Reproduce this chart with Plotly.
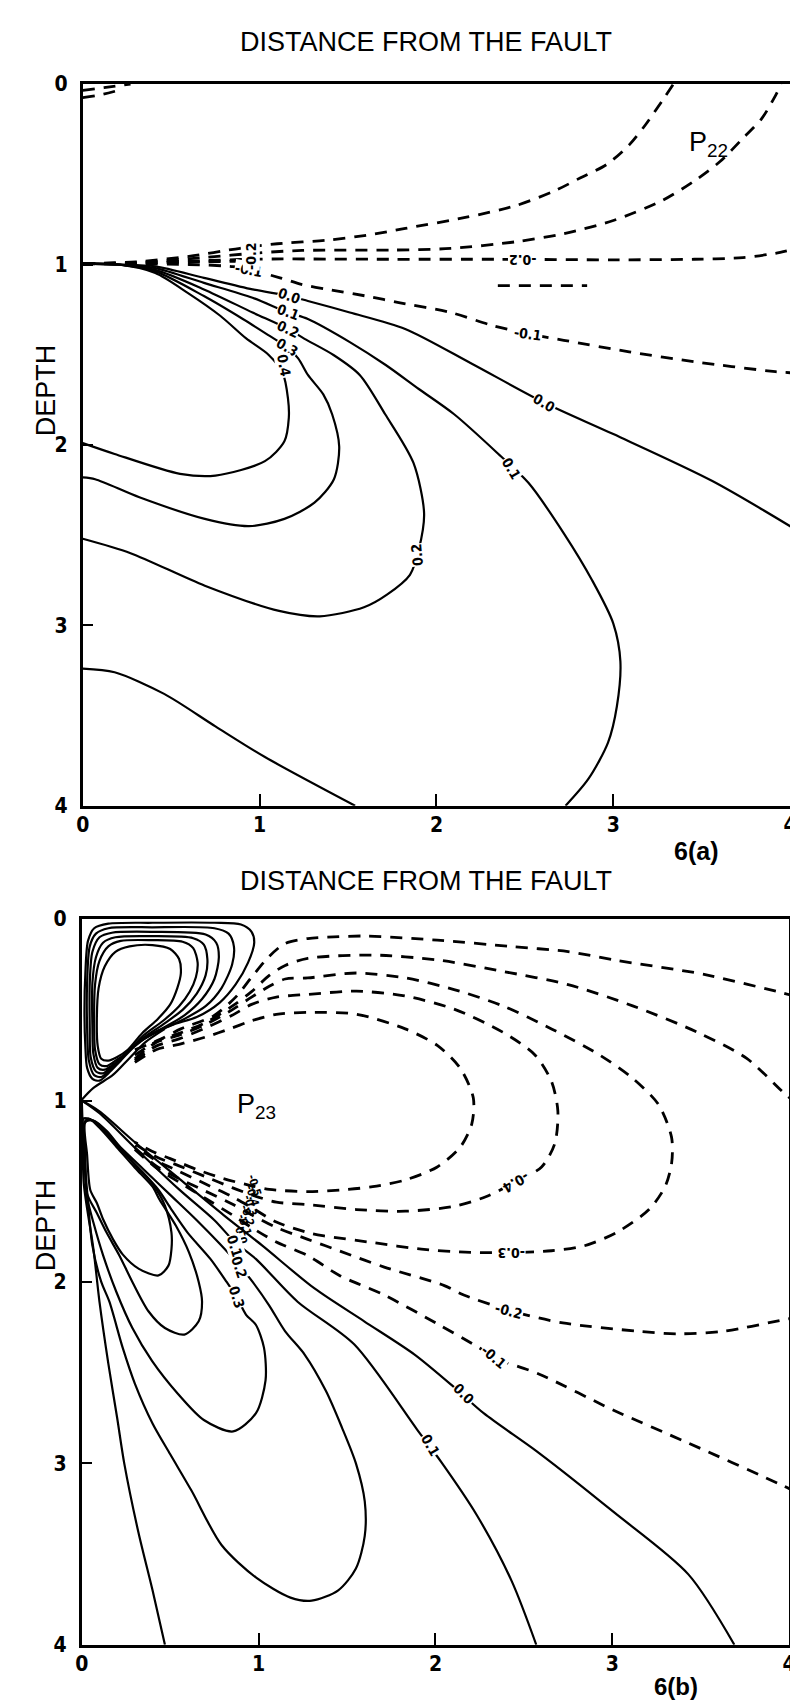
import plotly.graph_objects as go

# ---------------- axes ----------------
tick_vals = [0, 1, 2, 3, 4]
tick_text = ["0", "1", "2", "3", "4"]

# ---------------- P22 (panel a) solid contours ----------------
a_s00_x = [0.0, 0.2, 0.41, 0.685, 0.96, 1.17, 1.273, 1.51, 1.823, 2.2, 2.61, 3.0, 3.56, 4.05]
a_s00_y = [0.995, 1.0, 1.01, 1.074, 1.138, 1.175, 1.202, 1.266, 1.357, 1.55, 1.766, 1.94, 2.20, 2.48]
a_s01_x = [0.0, 0.2, 0.41, 0.685, 0.96, 1.16, 1.273, 1.51, 1.713, 1.90, 2.10, 2.35, 2.52, 2.72, 2.88, 3.0, 3.04, 3.02, 2.97, 2.86, 2.73]
a_s01_y = [0.995, 1.0, 1.02, 1.102, 1.184, 1.266, 1.302, 1.43, 1.557, 1.69, 1.83, 2.05, 2.21, 2.49, 2.75, 2.99, 3.2, 3.45, 3.65, 3.85, 4.0]
a_s02_x = [0.0, 0.2, 0.41, 0.685, 0.96, 1.16, 1.254, 1.42, 1.566, 1.71, 1.87, 1.93, 1.90, 1.85, 1.72, 1.59, 1.34, 1.11, 0.69, 0.27, 0.0]
a_s02_y = [0.995, 1.0, 1.03, 1.138, 1.266, 1.357, 1.412, 1.503, 1.612, 1.83, 2.10, 2.38, 2.58, 2.72, 2.83, 2.90, 2.95, 2.92, 2.78, 2.60, 2.52]
a_s03_x = [0.0, 0.2, 0.41, 0.685, 0.905, 1.052, 1.153, 1.218, 1.273, 1.36, 1.41, 1.45, 1.42, 1.31, 1.14, 0.94, 0.69, 0.32, 0.07, 0.0]
a_s03_y = [0.995, 1.0, 1.038, 1.175, 1.302, 1.393, 1.457, 1.52, 1.612, 1.72, 1.83, 2.01, 2.19, 2.32, 2.41, 2.45, 2.41, 2.29, 2.19, 2.18]
a_s04_x = [0.0, 0.2, 0.41, 0.593, 0.777, 0.924, 1.05, 1.13, 1.16, 1.165, 1.14, 1.03, 0.75, 0.55, 0.18, 0.0]
a_s04_y = [0.995, 1.0, 1.047, 1.157, 1.284, 1.41, 1.50, 1.60, 1.74, 1.85, 1.98, 2.09, 2.17, 2.16, 2.05, 1.99]
a_s05_x = [0.0, 0.18, 0.46, 0.75, 1.03, 1.54]
a_s05_y = [3.24, 3.26, 3.38, 3.56, 3.73, 4.0]

# ---------------- P22 (panel a) dashed contours ----------------
a_d1_x = [0.0, 0.3, 0.6, 0.89, 1.1, 1.383, 1.603, 1.824, 2.17, 2.448, 2.668, 2.815, 2.962, 3.09, 3.18, 3.29, 3.34]
a_d1_y = [0.995, 0.985, 0.955, 0.91, 0.885, 0.865, 0.838, 0.80, 0.738, 0.674, 0.592, 0.519, 0.446, 0.337, 0.228, 0.073, 0.0]
a_d2_x = [0.0, 0.3, 0.7, 1.0, 1.24, 1.75, 2.08, 2.448, 2.72, 3.0, 3.274, 3.458, 3.605, 3.733, 3.84, 3.917, 3.95]
a_d2_y = [0.995, 0.99, 0.96, 0.935, 0.922, 0.92, 0.911, 0.874, 0.829, 0.756, 0.647, 0.537, 0.428, 0.30, 0.19, 0.064, 0.0]
a_d3_x = [0.0, 0.3, 0.7, 1.0, 1.75, 2.356, 3.0, 3.458, 3.733, 3.917, 4.0]
a_d3_y = [0.995, 0.993, 0.978, 0.97, 0.971, 0.971, 0.974, 0.971, 0.962, 0.938, 0.92]
a_d4_x = [0.0, 0.3, 0.6, 0.85, 0.942, 1.12, 1.236, 1.383, 1.603, 1.787, 2.08, 2.32, 2.52, 2.72, 3.09, 3.458, 3.917, 4.0]
a_d4_y = [0.995, 0.997, 1.0, 1.012, 1.029, 1.075, 1.11, 1.138, 1.175, 1.211, 1.266, 1.339, 1.384, 1.42, 1.484, 1.539, 1.594, 1.60]
a_d5_x = [0.0, 0.4, 0.7, 0.92]
a_d5_y = [0.997, 0.99, 0.985, 0.982]
a_d6_x = [2.347, 2.852]
a_d6_y = [1.117, 1.117]
a_d7_x = [0.0, 0.12, 0.27]
a_d7_y = [0.035, 0.02, 0.0]
a_d8_x = [0.0, 0.1, 0.2]
a_d8_y = [0.075, 0.06, 0.035]

# ---------------- P22 contour labels ----------------
a_lab_text = ["0.0", "0.1", "0.2", "0.3", "-0.1", "0.4", "0.0", "0.1", "0.2", "-0.1", "-0.2", "-0.2"]
a_lab_x = [1.17, 1.16, 1.16, 1.153, 0.942, 1.14, 2.61, 2.42, 1.89, 2.52, 2.485, 0.955]
a_lab_y = [1.175, 1.266, 1.357, 1.457, 1.029, 1.56, 1.766, 2.13, 2.61, 1.384, 0.971, 0.955]
a_lab_ang = [20, 20, 25, 30, 10, 80, 30, 60, -95, 8, 180, -90]

# ---------------- P23 (panel b) solid contours ----------------
b_up1_x = [0.22, 0.30, 0.40, 0.52, 0.65, 0.78, 0.87, 0.94, 0.975, 0.96, 0.90, 0.75, 0.40, 0.15, 0.07, 0.035, 0.02, 0.015, 0.02, 0.03, 0.06, 0.10, 0.15, 0.22]
b_up1_y = [0.78, 0.70, 0.63, 0.58, 0.54, 0.46, 0.36, 0.24, 0.13, 0.07, 0.03, 0.02, 0.02, 0.025, 0.05, 0.12, 0.30, 0.50, 0.70, 0.82, 0.88, 0.89, 0.85, 0.78]
b_up2_x = [0.22, 0.32, 0.45, 0.58, 0.70, 0.79, 0.85, 0.86, 0.83, 0.75, 0.40, 0.15, 0.08, 0.045, 0.03, 0.03, 0.04, 0.07, 0.11, 0.16, 0.22]
b_up2_y = [0.77, 0.68, 0.61, 0.55, 0.48, 0.38, 0.25, 0.15, 0.08, 0.05, 0.045, 0.05, 0.08, 0.15, 0.35, 0.60, 0.78, 0.86, 0.87, 0.83, 0.77]
b_up3_x = [0.23, 0.33, 0.46, 0.58, 0.68, 0.75, 0.775, 0.76, 0.70, 0.40, 0.17, 0.10, 0.06, 0.045, 0.045, 0.05, 0.08, 0.12, 0.17, 0.23]
b_up3_y = [0.76, 0.67, 0.60, 0.53, 0.44, 0.33, 0.21, 0.13, 0.085, 0.07, 0.075, 0.10, 0.18, 0.35, 0.60, 0.76, 0.84, 0.85, 0.81, 0.76]
b_up4_x = [0.24, 0.34, 0.46, 0.57, 0.65, 0.70, 0.71, 0.69, 0.63, 0.40, 0.19, 0.12, 0.08, 0.06, 0.06, 0.065, 0.09, 0.13, 0.18, 0.24]
b_up4_y = [0.75, 0.66, 0.58, 0.50, 0.41, 0.31, 0.22, 0.14, 0.105, 0.094, 0.10, 0.13, 0.21, 0.35, 0.60, 0.74, 0.82, 0.83, 0.80, 0.75]
b_up5_x = [0.25, 0.35, 0.46, 0.55, 0.61, 0.645, 0.655, 0.63, 0.57, 0.40, 0.22, 0.15, 0.10, 0.075, 0.07, 0.075, 0.10, 0.14, 0.19, 0.25]
b_up5_y = [0.74, 0.64, 0.56, 0.48, 0.40, 0.32, 0.24, 0.16, 0.125, 0.116, 0.12, 0.15, 0.23, 0.36, 0.60, 0.72, 0.80, 0.81, 0.78, 0.74]
b_up6_x = [0.26, 0.34, 0.43, 0.50, 0.54, 0.56, 0.55, 0.50, 0.40, 0.27, 0.19, 0.13, 0.095, 0.085, 0.09, 0.11, 0.15, 0.20, 0.26]
b_up6_y = [0.72, 0.63, 0.55, 0.47, 0.38, 0.30, 0.22, 0.165, 0.143, 0.15, 0.18, 0.26, 0.38, 0.55, 0.70, 0.77, 0.78, 0.76, 0.72]
b_o1_x = [0.0, 0.066, 0.176, 0.268, 0.36, 0.47]
b_o1_y = [0.995, 0.93, 0.859, 0.768, 0.678, 0.605]

b_lo1_x = [0.02, 0.03, 0.048, 0.085, 0.121, 0.176, 0.231, 0.323, 0.434, 0.49, 0.507, 0.507, 0.47, 0.40, 0.323, 0.231, 0.14, 0.066, 0.02]
b_lo1_y = [1.12, 1.30, 1.493, 1.565, 1.656, 1.764, 1.848, 1.928, 1.964, 1.91, 1.819, 1.728, 1.58, 1.46, 1.38, 1.275, 1.167, 1.11, 1.12]
b_lo2_x = [0.015, 0.02, 0.029, 0.085, 0.14, 0.213, 0.286, 0.378, 0.47, 0.58, 0.661, 0.68, 0.661, 0.606, 0.533, 0.44, 0.40, 0.30, 0.20, 0.10, 0.04, 0.015]
b_lo2_y = [1.12, 1.30, 1.511, 1.62, 1.728, 1.855, 2.0, 2.163, 2.254, 2.29, 2.217, 2.109, 2.0, 1.837, 1.692, 1.547, 1.475, 1.37, 1.26, 1.15, 1.10, 1.12]
b_lo3_x = [0.01, 0.015, 0.029, 0.066, 0.121, 0.195, 0.286, 0.397, 0.543, 0.69, 0.856, 0.984, 1.039, 1.03, 0.984, 0.929, 0.874, 0.819, 0.727, 0.598, 0.507, 0.434, 0.33, 0.20, 0.08, 0.01]
b_lo3_y = [1.10, 1.30, 1.529, 1.674, 1.855, 2.054, 2.254, 2.435, 2.616, 2.761, 2.824, 2.725, 2.543, 2.362, 2.236, 2.181, 2.081, 2.0, 1.873, 1.728, 1.601, 1.493, 1.38, 1.25, 1.12, 1.10]
b_lo4_x = [0.008, 0.015, 0.03, 0.06, 0.11, 0.156, 0.231, 0.30, 0.40, 0.50, 0.62, 0.79, 0.986, 1.18, 1.30, 1.45, 1.55, 1.60, 1.60, 1.55, 1.47, 1.38, 1.26, 1.15, 1.06, 0.966, 0.892, 0.78, 0.65, 0.50, 0.35, 0.20, 0.08, 0.008]
b_lo4_y = [1.10, 1.30, 1.50, 1.80, 2.0, 2.109, 2.362, 2.56, 2.78, 2.95, 3.15, 3.45, 3.63, 3.74, 3.757, 3.70, 3.58, 3.40, 3.21, 3.0, 2.80, 2.60, 2.40, 2.272, 2.13, 2.0, 1.91, 1.79, 1.66, 1.52, 1.38, 1.24, 1.12, 1.10]
b_la_x = [0.0, 0.005, 0.011, 0.066, 0.10, 0.15, 0.20, 0.24, 0.32, 0.40, 0.47]
b_la_y = [1.0, 1.15, 1.457, 1.82, 2.11, 2.45, 2.75, 3.0, 3.38, 3.70, 4.0]
b_l01_x = [0.0, 0.1, 0.3, 0.55, 0.75, 0.865, 0.984, 1.22, 1.54, 1.897, 2.035, 2.234, 2.431, 2.57]
b_l01_y = [1.0, 1.07, 1.26, 1.49, 1.66, 1.78, 1.873, 2.109, 2.344, 2.815, 2.996, 3.286, 3.649, 4.0]
b_l00_x = [0.0, 0.1, 0.3, 0.55, 0.80, 1.021, 1.316, 1.597, 1.88, 2.105, 2.274, 2.584, 3.007, 3.43, 3.69]
b_l00_y = [1.0, 1.06, 1.23, 1.43, 1.63, 1.80, 2.036, 2.217, 2.399, 2.58, 2.725, 2.942, 3.268, 3.612, 4.0]

# ---------------- P23 (panel b) dashed contours ----------------
b_da_x = [0.30, 0.45, 0.56, 0.745, 0.87, 0.957, 1.058, 1.15, 1.278, 1.425, 1.60, 2.01, 2.44, 2.75, 3.01, 3.48, 3.57, 3.96, 4.05]
b_da_y = [0.72, 0.66, 0.605, 0.533, 0.43, 0.324, 0.207, 0.134, 0.107, 0.098, 0.093, 0.116, 0.152, 0.179, 0.225, 0.297, 0.315, 0.406, 0.43]
b_db_x = [0.30, 0.43, 0.55, 0.70, 0.85, 0.96, 1.06, 1.15, 1.278, 1.645, 2.01, 2.38, 2.75, 3.115, 3.48, 3.76, 3.96, 4.02]
b_db_y = [0.75, 0.67, 0.63, 0.57, 0.48, 0.40, 0.31, 0.255, 0.216, 0.198, 0.225, 0.288, 0.361, 0.478, 0.623, 0.768, 0.949, 1.0]
b_dc_x = [0.30, 0.42, 0.55, 0.70, 0.85, 0.96, 1.06, 1.15, 1.278, 1.553, 1.829, 2.105, 2.38, 2.656, 2.93, 3.115, 3.261, 3.335, 3.335, 3.298, 3.207, 3.023, 2.84, 2.656, 2.472, 2.197, 1.92, 1.645, 1.37, 1.278, 1.10, 0.96, 0.85, 0.70, 0.55, 0.42, 0.30]
b_dc_y = [0.77, 0.68, 0.64, 0.58, 0.50, 0.43, 0.37, 0.33, 0.324, 0.297, 0.324, 0.388, 0.478, 0.605, 0.75, 0.877, 1.022, 1.203, 1.348, 1.475, 1.601, 1.728, 1.801, 1.828, 1.837, 1.837, 1.819, 1.783, 1.746, 1.728, 1.67, 1.59, 1.53, 1.46, 1.39, 1.33, 1.25]
b_dd_x = [0.30, 0.42, 0.55, 0.70, 0.85, 0.96, 1.10, 1.278, 1.553, 1.829, 2.105, 2.38, 2.564, 2.656, 2.692, 2.674, 2.60, 2.472, 2.288, 2.105, 1.829, 1.553, 1.278, 1.10, 0.96, 0.85, 0.70, 0.55, 0.42, 0.30]
b_dd_y = [0.78, 0.70, 0.66, 0.60, 0.53, 0.47, 0.43, 0.415, 0.397, 0.424, 0.496, 0.623, 0.75, 0.895, 1.058, 1.239, 1.366, 1.438, 1.529, 1.583, 1.61, 1.601, 1.574, 1.56, 1.52, 1.48, 1.42, 1.36, 1.31, 1.24]
b_de_x = [0.30, 0.42, 0.55, 0.70, 0.85, 0.96, 1.10, 1.278, 1.553, 1.829, 2.01, 2.14, 2.214, 2.205, 2.14, 2.01, 1.829, 1.645, 1.462, 1.278, 1.06, 0.96, 0.80, 0.65, 0.50, 0.42, 0.30]
b_de_y = [0.79, 0.72, 0.69, 0.65, 0.60, 0.56, 0.525, 0.514, 0.524, 0.605, 0.696, 0.822, 0.986, 1.13, 1.257, 1.366, 1.438, 1.475, 1.493, 1.502, 1.49, 1.47, 1.43, 1.38, 1.32, 1.29, 1.23]
b_df_x = [0.30, 0.42, 0.55, 0.70, 0.85, 0.96, 1.10, 1.278, 1.46, 1.71, 2.05, 2.16, 2.44, 2.72, 3.15, 3.37, 3.63, 3.97, 4.02]
b_df_y = [1.26, 1.36, 1.43, 1.50, 1.57, 1.63, 1.70, 1.765, 1.83, 1.918, 2.02, 2.072, 2.163, 2.226, 2.272, 2.286, 2.272, 2.208, 2.20]
b_dg_x = [0.30, 0.42, 0.55, 0.70, 0.85, 0.96, 1.10, 1.278, 1.457, 1.71, 2.02, 2.246, 2.33, 2.584, 3.007, 3.43, 3.965, 4.02]
b_dg_y = [1.27, 1.37, 1.45, 1.54, 1.63, 1.70, 1.78, 1.855, 1.964, 2.072, 2.236, 2.362, 2.417, 2.507, 2.707, 2.888, 3.123, 3.15]

# ---------------- P23 contour labels ----------------
b_lab_text = ["-0.4", "-0.3", "-0.2", "-0.1", "0.0", "0.1"]
b_lab_x = [2.454, 2.43, 2.417, 2.33, 2.16, 1.97]
b_lab_y = [1.45, 1.837, 2.158, 2.413, 2.62, 2.90]
b_lab_ang = [150, 180, 15, 40, 45, 60]
b_stk_text = ["-0.5", "-0.4", "-0.3", "-0.2", "-0.1", "0.0", "0.1", "0.2", "0.3"]
b_stk_x = [0.975, 0.962, 0.95, 0.935, 0.92, 0.90, 0.865, 0.892, 0.874]
b_stk_y = [1.47, 1.525, 1.58, 1.635, 1.69, 1.745, 1.80, 1.915, 2.085]

# =====================================================================
BLACK = "black"
SOLID_W = 2.2
DASH_W = 2.8
DASH = "12px,9px"

fig = go.Figure()


def add_line(xs, ys, dashed, panel):
    xa, ya = ("x", "y") if panel == "a" else ("x2", "y2")
    fig.add_trace(go.Scatter(
        x=xs, y=ys, mode="lines", xaxis=xa, yaxis=ya,
        line=dict(color=BLACK, width=DASH_W if dashed else SOLID_W,
                  dash=DASH if dashed else "solid", shape="spline", smoothing=0.8),
        hoverinfo="skip", showlegend=False))


for xs, ys in [(a_s00_x, a_s00_y), (a_s01_x, a_s01_y), (a_s02_x, a_s02_y),
               (a_s03_x, a_s03_y), (a_s04_x, a_s04_y), (a_s05_x, a_s05_y)]:
    add_line(xs, ys, False, "a")
for xs, ys in [(a_d1_x, a_d1_y), (a_d2_x, a_d2_y), (a_d3_x, a_d3_y), (a_d4_x, a_d4_y),
               (a_d5_x, a_d5_y), (a_d6_x, a_d6_y), (a_d7_x, a_d7_y), (a_d8_x, a_d8_y)]:
    add_line(xs, ys, True, "a")

for xs, ys in [(b_up1_x, b_up1_y), (b_up2_x, b_up2_y), (b_up3_x, b_up3_y),
               (b_up4_x, b_up4_y), (b_up5_x, b_up5_y), (b_up6_x, b_up6_y),
               (b_o1_x, b_o1_y), (b_lo1_x, b_lo1_y), (b_lo2_x, b_lo2_y),
               (b_lo3_x, b_lo3_y), (b_lo4_x, b_lo4_y), (b_la_x, b_la_y),
               (b_l01_x, b_l01_y), (b_l00_x, b_l00_y)]:
    add_line(xs, ys, False, "b")
for xs, ys in [(b_da_x, b_da_y), (b_db_x, b_db_y), (b_dc_x, b_dc_y), (b_dd_x, b_dd_y),
               (b_de_x, b_de_y), (b_df_x, b_df_y), (b_dg_x, b_dg_y)]:
    add_line(xs, ys, True, "b")

NARROW = "Liberation Sans Narrow, DejaVu Sans Condensed, Arial Narrow, sans-serif"
LAB_FONT = dict(family=NARROW, size=14, color=BLACK, weight="bold")
TXT_FONT = "Liberation Sans, Arial, sans-serif"

ann = []
for t, x, y, a in zip(a_lab_text, a_lab_x, a_lab_y, a_lab_ang):
    ann.append(dict(text=t, x=x, y=y, xref="x", yref="y", showarrow=False,
                    textangle=a, font=LAB_FONT, bgcolor="white", borderpad=0))
for t, x, y, a in zip(b_lab_text, b_lab_x, b_lab_y, b_lab_ang):
    ann.append(dict(text=t, x=x, y=y, xref="x2", yref="y2", showarrow=False,
                    textangle=a, font=LAB_FONT, bgcolor="white", borderpad=0))
for i, (t, x, y) in enumerate(zip(b_stk_text, b_stk_x, b_stk_y)):
    f = dict(LAB_FONT)
    f["size"] = 11 if i < 6 else 14
    a = dict(text=t, x=x, y=y, xref="x2", yref="y2", showarrow=False,
             textangle=72, font=f, borderpad=0)
    if i >= 6:
        a["bgcolor"] = "white"
    ann.append(a)

# panel labels
ann.append(dict(text="P<sub>22</sub>", x=3.54, y=0.33, xref="x", yref="y", showarrow=False,
                font=dict(family=TXT_FONT, size=27, color=BLACK)))
ann.append(dict(text="P<sub>23</sub>", x=0.99, y=1.03, xref="x2", yref="y2", showarrow=False,
                font=dict(family=TXT_FONT, size=27, color=BLACK)))

# titles / axis titles (paper coords)
W, H = 798, 1702
for ytop in (22, 873):
    ann.append(dict(text="DISTANCE FROM THE FAULT", x=418 / W, y=1 - ytop / H,
                    xref="paper", yref="paper", showarrow=False, xanchor="center", yanchor="middle",
                    font=dict(family=TXT_FONT, size=27, color=BLACK)))
for yc in (375, 1222):
    ann.append(dict(text="DEPTH", x=31 / W, y=1 - yc / H, xref="paper", yref="paper",
                    showarrow=False, textangle=-90, xanchor="center", yanchor="middle",
                    font=dict(family=TXT_FONT, size=27, color=BLACK)))
ann.append(dict(text="6(a)", x=693 / W, y=1 - 843 / H, xref="paper", yref="paper",
                showarrow=False, xanchor="center", yanchor="middle",
                font=dict(family=TXT_FONT, size=25, color=BLACK, weight="bold")))
ann.append(dict(text="6(b)", x=673 / W, y=1 - 1690 / H, xref="paper", yref="paper",
                showarrow=False, xanchor="center", yanchor="middle",
                font=dict(family=TXT_FONT, size=24, color=BLACK, weight="bold")))

TICK_FONT = dict(family=NARROW, size=21, color=BLACK, weight="bold")


def xax(domain, anchor):
    return dict(domain=domain, anchor=anchor, range=[0, 4], tickvals=tick_vals, ticktext=tick_text,
                ticks="inside", ticklen=12, tickwidth=2, tickcolor=BLACK, showline=True,
                linewidth=3, linecolor=BLACK, mirror=True, showgrid=False, zeroline=False,
                tickfont=TICK_FONT, ticklabelstandoff=-2, ticklabeloverflow="allow",
                fixedrange=True)


def yax(domain, anchor):
    return dict(domain=domain, anchor=anchor, range=[4, 0], tickvals=tick_vals, ticktext=tick_text,
                ticks="inside", ticklen=10, tickwidth=2, tickcolor=BLACK, showline=True,
                linewidth=3, linecolor=BLACK, mirror=True, showgrid=False, zeroline=False,
                tickfont=TICK_FONT, ticklabelstandoff=8, ticklabeloverflow="allow",
                fixedrange=True)


fig.update_layout(
    width=W, height=H, autosize=False,
    margin=dict(l=0, r=0, t=0, b=0),
    paper_bgcolor="white", plot_bgcolor="white",
    showlegend=False,
    xaxis=xax([69 / W, 789 / W], "y"),
    yaxis=yax([1 - 797 / H, 1 - 65 / H], "x"),
    xaxis2=xax([68 / W, 788 / W], "y2"),
    yaxis2=yax([1 - 1648 / H, 1 - 912 / H], "x2"),
    annotations=ann,
)

fig.write_html("out.html")
